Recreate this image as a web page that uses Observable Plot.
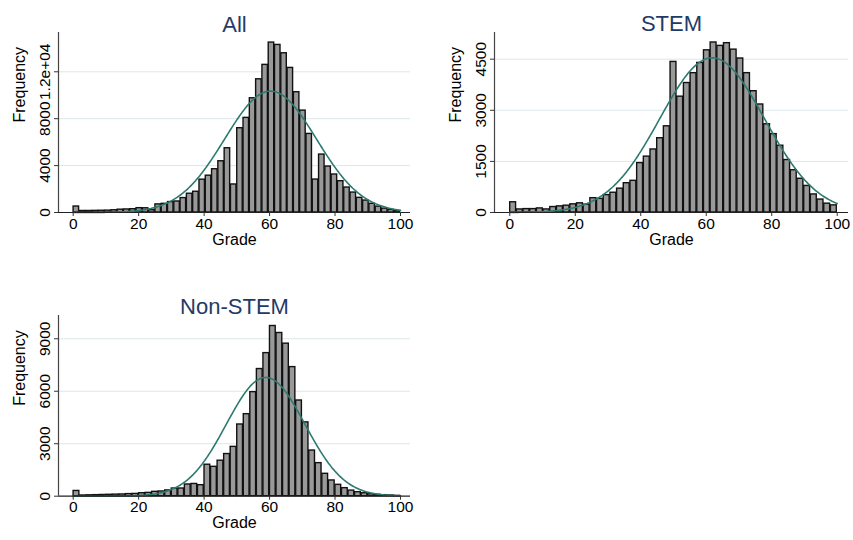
<!DOCTYPE html>
<html><head><meta charset="utf-8">
<script src="https://cdn.jsdelivr.net/npm/d3@7"></script>
<script src="https://cdn.jsdelivr.net/npm/@observablehq/plot@0.6"></script>
<style>
body{margin:0;background:#fff;}
#wrap{position:relative;width:853px;height:540px;font-family:"Liberation Sans",Arial,sans-serif;background:#fff;}
#wrap > div{position:absolute;}
</style></head><body>
<div id="wrap"><div id="p1" style="left:0;top:0"></div><div id="p2" style="left:426px;top:0"></div><div id="p3" style="left:0;top:270px"></div></div>
<script>
// Frequencies per bin (bins span 0–100, equal widths)
const allCounts = [510,130,130,140,150,160,190,240,260,280,370,360,200,690,740,890,940,1230,1600,1770,2800,3140,3690,4370,5480,2390,7190,8070,9740,11360,12590,14490,14290,13580,12330,10260,8690,6700,2810,4940,3920,3240,2670,2130,1700,1250,1020,740,500,330,220,130];
const stemCounts = [300,90,100,100,120,90,160,180,200,240,270,230,420,400,510,580,700,860,930,1450,1640,1850,2180,2530,4420,3400,3800,4090,4390,4760,4990,4890,4970,4780,4520,4090,3560,3170,2590,2300,1960,1540,1240,990,780,530,380,260,210];
const nonStemCounts = [300,40,50,60,70,80,90,100,120,130,170,190,250,270,330,440,440,670,700,630,1800,1680,2030,2410,2820,4100,4690,5950,7270,8180,9730,9330,8720,7380,5470,4220,2610,1890,1280,900,650,460,320,230,170,110,80,60,40,20];

// Fitted normal curves (mean, sd, peak frequency)
const allNormal = {mean: 60.3, sd: 14.0, peak: 10350};
const stemNormal = {mean: 61.8, sd: 16.0, peak: 4540};
const nonStemNormal = {mean: 58.8, sd: 12.0, peak: 6790};

// Ticks
const xTicks = [0, 20, 40, 60, 80, 100];
const allYTicks = [0, 4000, 8000, 12000];
const allYLabels = ["0", "4000", "8000", "1.2e+04"];
const stemYTicks = [0, 1500, 3000, 4500];
const stemYLabels = ["0", "1500", "3000", "4500"];
const nonStemYTicks = [0, 3000, 6000, 9000];
const nonStemYLabels = ["0", "3000", "6000", "9000"];

const titles = ["All", "STEM", "Non-STEM"];
const xLabel = "Grade";
const yLabel = "Frequency";

const FONT = '"Liberation Sans", Arial, sans-serif';

function panel(el, o) {
  const w = 100 / o.counts.length;
  const bins = o.counts.map((c, i) => ({x1: i * w, x2: (i + 1) * w, n: c}));
  const xs = d3.range(0, 100.0001, 0.25);
  const curve = xs.map(x => ({x, y: o.normal.peak * Math.exp(-0.5 * ((x - o.normal.mean) / o.normal.sd) ** 2)}));
  const fmt = d => o.yLabels[o.yTicks.indexOf(d)];
  const chart = Plot.plot({
    width: o.width, height: o.height,
    marginLeft: o.mL, marginRight: o.mR, marginTop: o.mT, marginBottom: o.mB,
    style: {fontFamily: FONT, fontSize: "15px", color: "#000", background: "transparent", overflow: "visible"},
    x: {domain: o.xDom, label: null},
    y: {domain: [0, o.yMax], label: null},
    marks: [
      Plot.gridY(o.yTicks.filter(t => t > 0), {stroke: "#dce7ea", strokeOpacity: 1, strokeWidth: 1}),
      Plot.rect(bins, {x1: "x1", x2: "x2", y1: d => 0, y2: "n", fill: "#999999", stroke: "#111", strokeWidth: 1.4, insetLeft: 0.4, insetRight: 0.4}),
      Plot.line(curve, {x: "x", y: "y", stroke: "#2e7a6f", strokeWidth: 1.6}),
      Plot.ruleY([0], {stroke: "#222", strokeWidth: 1.2}),
      Plot.ruleX([o.xDom[0]], {stroke: "#444", strokeWidth: 1.2}),
      Plot.axisX(xTicks, {tickSize: 4, tickPadding: 1, fontSize: 15.5, label: null, stroke: "#333"}),
      Plot.axisY(o.yTicks, {tickSize: 4, tickRotate: -90, tickFormat: fmt, fontSize: 15.5, label: null, stroke: "#333"}),
      Plot.text([yLabel], {frameAnchor: "left", dx: -39, rotate: -90, fontSize: 16, fill: "#000"}),
      Plot.text([xLabel], {frameAnchor: "bottom", dy: 32, fontSize: 16, fill: "#000"}),
      Plot.text([o.title], {frameAnchor: "top", dy: o.titleDy, fontSize: 22, fill: "#243a66"})
    ]
  });
  el.appendChild(chart);
}

panel(document.getElementById("p1"), {
  counts: allCounts, normal: allNormal, yTicks: allYTicks, yLabels: allYLabels, title: titles[0],
  width: 426, height: 260, mL: 58, mR: 16, mT: 32, mB: 48, xDom: [-4.49, 103.06], yMax: 15350, titleDy: -16
});
panel(document.getElementById("p2"), {
  counts: stemCounts, normal: stemNormal, yTicks: stemYTicks, yLabels: stemYLabels, title: titles[1],
  width: 427, height: 260, mL: 68, mR: 5, mT: 32, mB: 48, xDom: [-4.67, 103.45], yMax: 5283, titleDy: -17
});
panel(document.getElementById("p3"), {
  counts: nonStemCounts, normal: nonStemNormal, yTicks: nonStemYTicks, yLabels: nonStemYLabels, title: titles[2],
  width: 426, height: 270, mL: 58, mR: 16, mT: 45, mB: 44.3, xDom: [-4.49, 103.06], yMax: 10330, titleDy: -17
});
</script>
</body></html>
